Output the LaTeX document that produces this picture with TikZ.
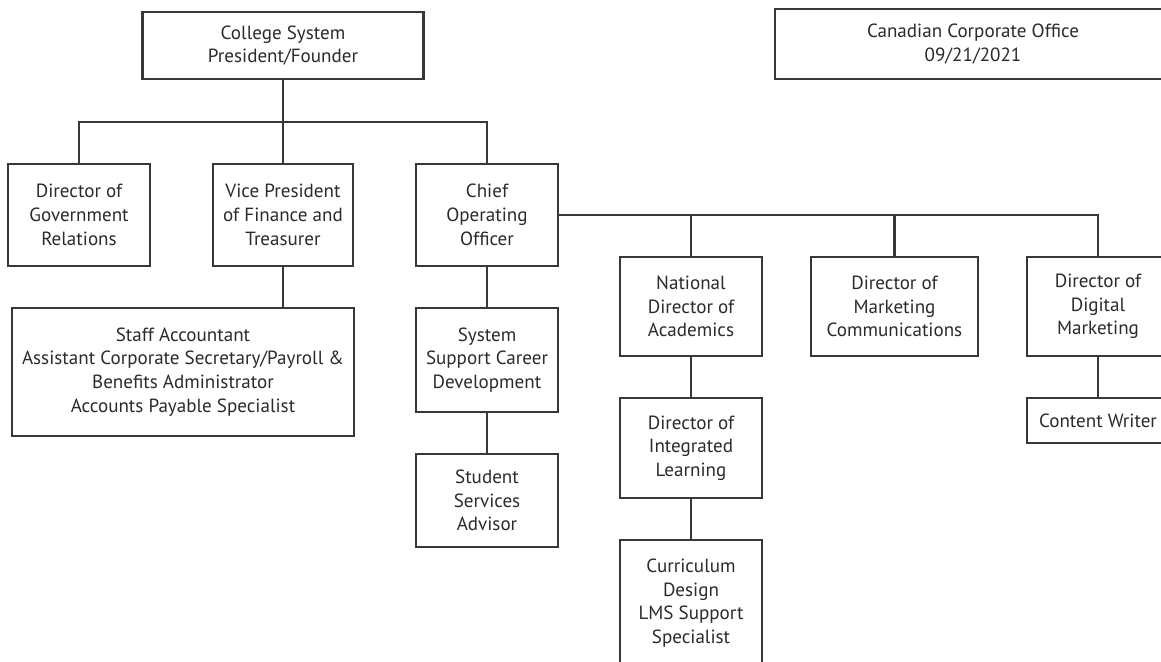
\documentclass[tikz,border=0pt]{standalone}
\usepackage{fontspec}
\setmainfont{PT Sans}
\begin{document}
\begin{tikzpicture}[x=0.75pt,y=-0.75pt,
  box/.style={draw=linegray,line width=1.6pt,rectangle,inner sep=0pt,align=center,
    text=textgray,font=\fontsize{14.3}{17.8}\selectfont},
  conn/.style={draw=linegray,line width=1.6pt}]
\definecolor{linegray}{HTML}{383838}
\definecolor{textgray}{HTML}{2B2B2B}
\useasboundingbox (0,0) rectangle (1161,661);
\fill[white] (0,0) rectangle (1161,661);
\clip (0,0) rectangle (1161,661);
% nodes
\node[box,minimum width=281*0.75pt,minimum height=67*0.75pt] (top) at (283,45.5) {College System\\President/Founder};
\node[box,minimum width=396*0.75pt,minimum height=70*0.75pt] (can) at (973,44) {Canadian Corporate Office\\09/21/2021};
\node[box,minimum width=142*0.75pt,minimum height=102*0.75pt] (gov) at (79,215) {Director of\\Government\\Relations};
\node[box,minimum width=140*0.75pt,minimum height=102*0.75pt] (vp) at (283,215) {Vice President\\of Finance and\\Treasurer};
\node[box,minimum width=142*0.75pt,minimum height=102*0.75pt] (coo) at (487,215) {Chief\\Operating\\Officer};
\node[box,minimum width=141.5*0.75pt,minimum height=99*0.75pt] (nat) at (691,306.5) {National\\Director of\\Academics};
\node[box,minimum width=167*0.75pt,minimum height=99*0.75pt] (mc) at (894.5,306.5) {Director of\\Marketing\\Communications};
\node[box,minimum width=142*0.75pt,minimum height=99*0.75pt] (dig) at (1098,306.5) {Director of\\Digital\\Marketing};
\node[box,minimum width=342*0.75pt,minimum height=128*0.75pt] (staff) at (183,372) {Staff Accountant\\Assistant Corporate Secretary/Payroll \&\\Benefits Administrator\\Accounts Payable Specialist};
\node[box,minimum width=142*0.75pt,minimum height=104*0.75pt] (sys) at (487,360) {System\\Support Career\\Development};
\node[box,minimum width=142*0.75pt,minimum height=93*0.75pt] (stu) at (487,500.5) {Student\\Services\\Advisor};
\node[box,minimum width=142*0.75pt,minimum height=100*0.75pt] (int) at (691,448) {Director of\\Integrated\\Learning};
\node[box,minimum width=142*0.75pt,minimum height=126*0.75pt] (cur) at (691,603) {Curriculum\\Design\\LMS Support\\Specialist};
\node[box,minimum width=142*0.75pt,minimum height=45*0.75pt] (cw) at (1098,420.5) {Content Writer};
% connectors
\coordinate (b1) at (283,122);
\draw[conn] (top.south) -- (vp.north);
\draw[conn] (gov.north) -- (gov.north |- b1) -- (coo.north |- b1) -- (coo.north);
\draw[conn] (coo.east) -- (coo.east -| dig.north) -- (dig.north);
\draw[conn] (nat.north) -- (nat.north |- coo.east);
\draw[conn] (mc.north) -- (mc.north |- coo.east);
\draw[conn] (vp.south) -- (vp.south |- staff.north);
\draw[conn] (coo.south) -- (sys.north);
\draw[conn] (sys.south) -- (stu.north);
\draw[conn] (nat.south) -- (int.north);
\draw[conn] (int.south) -- (cur.north);
\draw[conn] (dig.south) -- (cw.north);
\end{tikzpicture}
\end{document}
